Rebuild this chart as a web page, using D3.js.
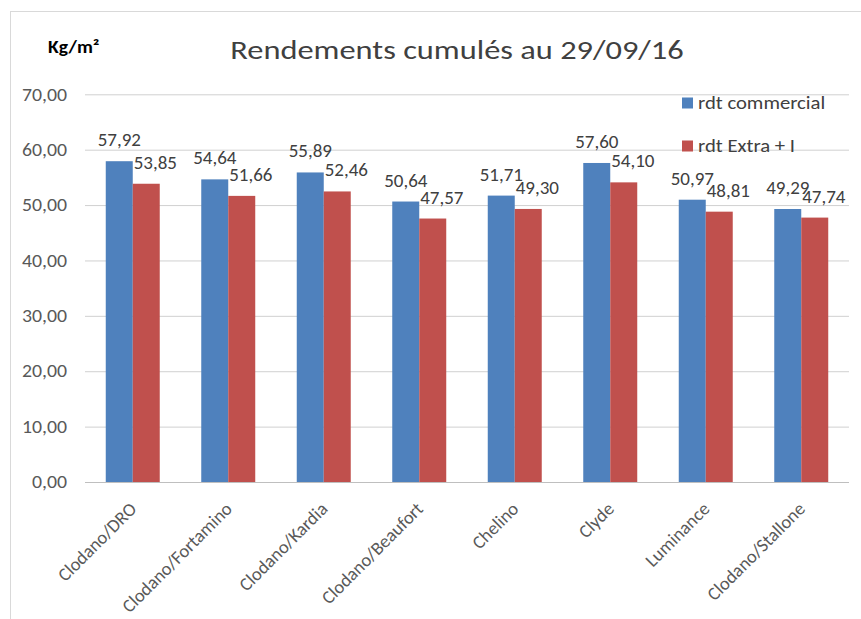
<!DOCTYPE html>
<html>
<head>
<meta charset="utf-8">
<script src="https://cdn.jsdelivr.net/npm/d3@7"></script>
<style>
  body { margin: 0; background: #fff; }
  svg { display: block; font-family: Calibri, Carlito, Lato, sans-serif; }
  .tick-label { fill: #595959; font-size: 18px; }
  .data-label { fill: #404040; font-size: 19px; }
</style>
</head>
<body>
<div id="chart"></div>
<script>
// --- Data ---
const categories = ['Clodano/DRO', 'Clodano/Fortamino', 'Clodano/Kardia', 'Clodano/Beaufort',
                    'Chelino', 'Clyde', 'Luminance', 'Clodano/Stallone'];
const seriesNames = ['rdt commercial', 'rdt Extra + I'];
const rdtCommercial = [57.92, 54.64, 55.89, 50.64, 51.71, 57.60, 50.97, 49.29];
const rdtExtra = [53.85, 51.66, 52.46, 47.57, 49.30, 54.10, 48.81, 47.74];
const yTickValues = [0, 10, 20, 30, 40, 50, 60, 70];
const colors = ['#4F81BD', '#C0504D'];

const W = 861, H = 619;
const plot = { left: 85, right: 849, top: 94.3, bottom: 482 };
const STRETCH = 1.15;   // the source text is set a bit wide

const fr = d3.formatLocale({ decimal: ',', thousands: ' ', grouping: [3], currency: ['', '€'] });
const fmt = fr.format('.2f');

const svg = d3.select('#chart').append('svg')
    .attr('width', W)
    .attr('height', H);

// chart frame
svg.append('rect')
    .attr('x', 10.5).attr('y', 11.5)
    .attr('width', W + 10).attr('height', H + 10)
    .attr('fill', 'none').attr('stroke', '#d9d9d9');

// --- Scales ---
const x0 = d3.scaleBand().domain(categories).range([plot.left, plot.right])
    .paddingInner(0.4346).paddingOuter(0.2173);
const x1 = d3.scaleBand().domain(seriesNames).range([0, x0.bandwidth()]);
const y = d3.scaleLinear().domain([0, 70]).range([plot.bottom, plot.top]);

// --- Gridlines + y axis ---
const yAxis = svg.append('g')
    .attr('transform', `translate(${plot.left},0)`)
    .call(d3.axisLeft(y).tickValues(yTickValues).tickFormat(fmt)
        .tickSize(-(plot.right - plot.left)).tickPadding(18));
yAxis.select('.domain').remove();
yAxis.selectAll('.tick line').attr('stroke', '#d0d0d0');
yAxis.selectAll('.tick text').attr('class', 'tick-label').attr('fill', null)
    .attr('x', -18 / 1.1)
    .attr('transform', 'scale(1.1,1)')
    .style('font-family', 'Calibri, Carlito, Lato, sans-serif');

// --- Bars ---
const rows = categories.map((c, i) => ({ cat: c, values: [rdtCommercial[i], rdtExtra[i]] }));

const groups = svg.append('g').selectAll('g')
    .data(rows).join('g')
    .attr('transform', d => `translate(${x0(d.cat)},0)`);

groups.selectAll('rect')
    .data(d => d.values.map((v, j) => ({ v, s: seriesNames[j], j })))
    .join('rect')
    .attr('x', d => x1(d.s))
    .attr('y', d => y(d.v))
    .attr('width', x1.bandwidth())
    .attr('height', d => y(0) - y(d.v))
    .attr('fill', d => colors[d.j]);

// data labels: blue centred, red shifted to start at the bar's left edge
groups.selectAll('text')
    .data(d => d.values.map((v, j) => ({ v, s: seriesNames[j], j })))
    .join('text')
    .attr('class', 'data-label')
    .attr('x', d => d.j === 0 ? x1(d.s) + x1.bandwidth() / 2 : x1(d.s) + 1)
    .attr('y', d => y(d.v) - 15)
    .attr('text-anchor', d => d.j === 0 ? 'middle' : 'start')
    .text(d => fmt(d.v));

// x axis baseline
svg.append('line')
    .attr('x1', plot.left).attr('x2', plot.right)
    .attr('y1', y(0) + 0.5).attr('y2', y(0) + 0.5)
    .attr('stroke', '#bfbfbf');

// category labels
svg.append('g').selectAll('text')
    .data(categories).join('text')
    .attr('class', 'tick-label')
    .style('font-size', '18.5px')
    .attr('text-anchor', 'end')
    .attr('transform', d => `translate(${x0(d) + x0.bandwidth() / 2 + 5},${plot.bottom + 28}) rotate(-45)`)
    .text(d => d);

// --- Title & unit ---
svg.append('text')
    .attr('transform', `translate(457,59) scale(${STRETCH + 0.05},1)`)
    .attr('text-anchor', 'middle')
    .style('font-size', '27px').style('fill', '#404040')
    .text('Rendements cumulés au 29/09/16');

svg.append('text')
    .attr('transform', `translate(48,53) scale(${STRETCH},1)`)
    .style('font-size', '17px').style('font-weight', 'bold').style('fill', '#000')
    .text('Kg/m²');

// --- Legend ---
const legend = svg.append('g').attr('transform', 'translate(682,97.5)');
seriesNames.forEach((s, i) => {
    const g = legend.append('g').attr('transform', `translate(0,${i * 43})`);
    g.append('rect').attr('width', 11).attr('height', 11).attr('fill', colors[i]);
    g.append('text').attr('class', 'tick-label')
        .attr('transform', `translate(16,11) scale(${STRETCH},1)`)
        .style('fill', '#404040').text(s);
});
</script>
</body>
</html>
